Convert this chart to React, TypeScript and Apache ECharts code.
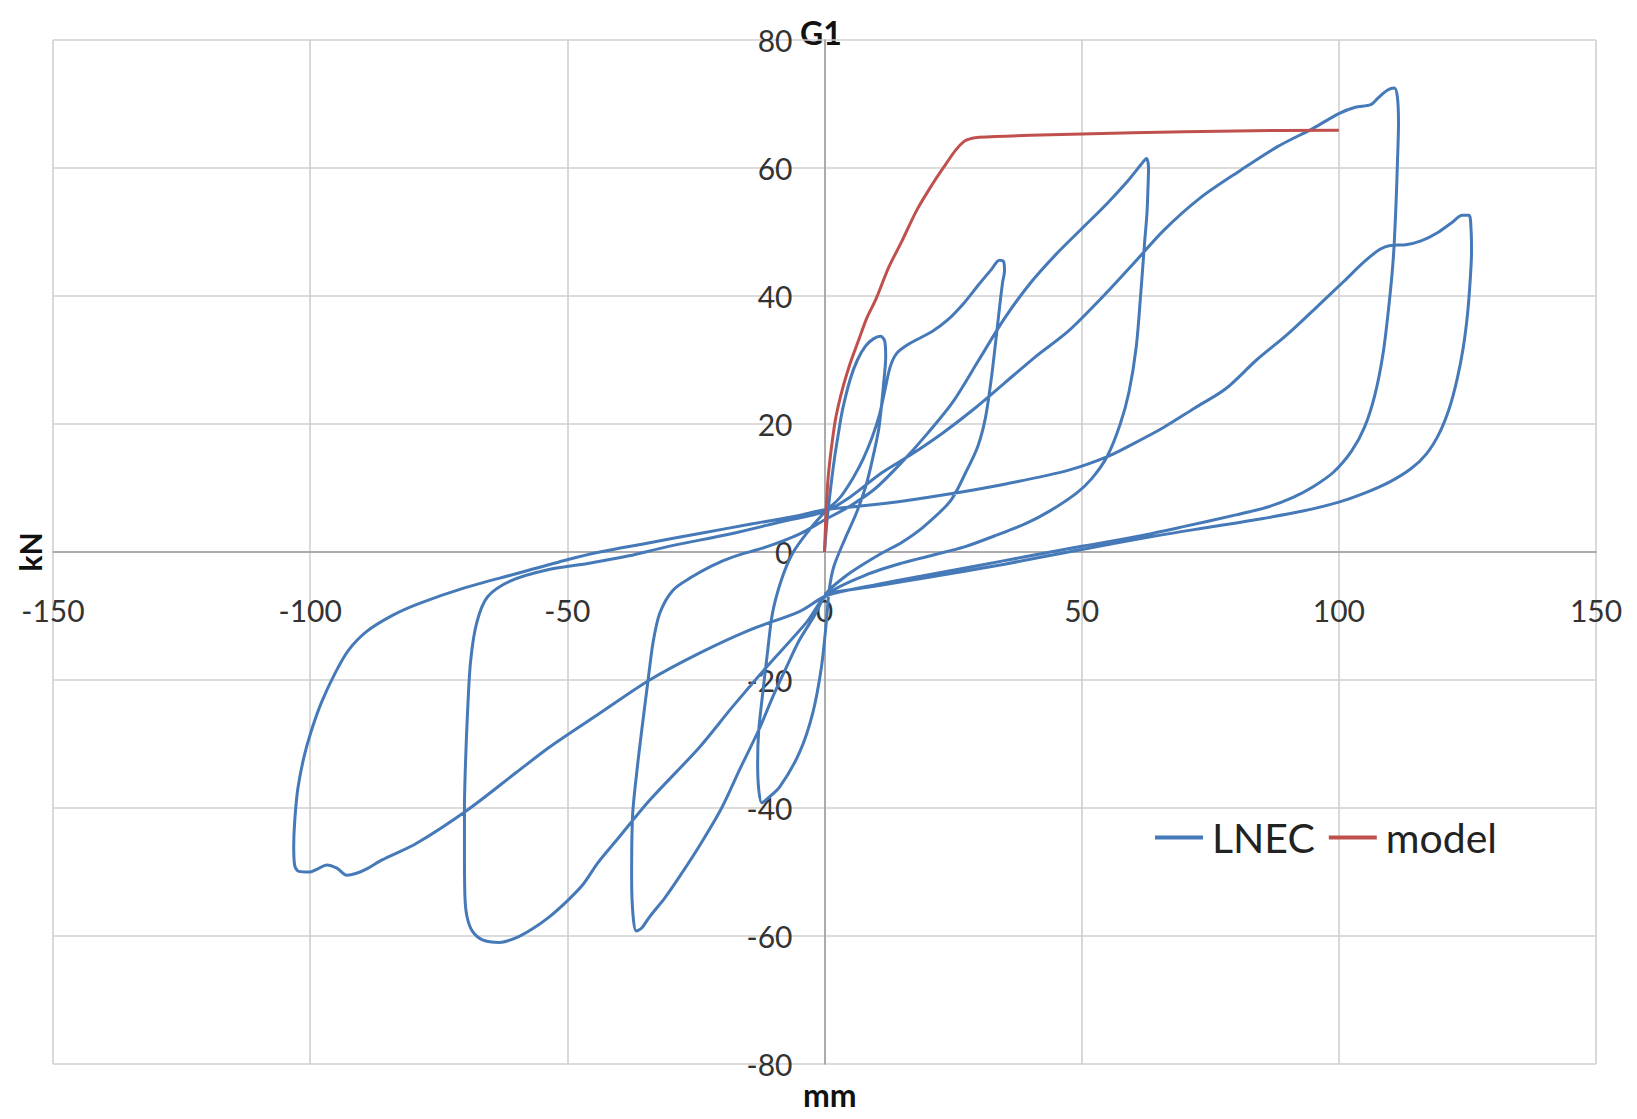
import React, { useEffect, useRef } from "react";
import * as echarts from "echarts";

const xTicks = { min: -150, max: 150, interval: 50 };
const yTicks = { min: -80, max: 80, interval: 20 };

// LNEC cyclic test, traced branch by branch in chronological order
const lnecCycle1 = [
  [0, 0], [0.5, 5], [1.2, 10], [1.9, 14.4], [2.7, 18.5], [3.5, 22.2], [5, 27], [6.4, 30], [8, 32.2],
  [9.5, 33.3], [10.9, 33.7], [11.7, 33], [11.9, 30.5], [11.5, 26.4], [10.6, 19.5], [9.3, 14.4],
  [8, 10.2], [6.2, 6.1], [3.9, 1.9], [1.8, -2.3], [0.9, -6], [0.4, -10.6], [-0.6, -18], [-2.3, -25.2],
  [-4.9, -31.4], [-8.7, -36.7], [-11.2, -38.6], [-12.2, -39.2],
];
const lnecCycle2 = [
  [-12.8, -37], [-13, -33], [-12.8, -28], [-12.1, -22.7], [-11.1, -15.8], [-10.1, -9.5], [-8.4, -4.4],
  [-6.2, -0.2], [-3.2, 3.2], [0, 6.2], [3, 8.5], [5.5, 11.5], [7.5, 14.5], [9.3, 18], [10.7, 21.5],
  [11.8, 25.5], [12.8, 29], [14, 31], [16, 32.3], [18, 33.2], [21, 34.5], [24, 36.3], [27, 38.8],
  [30, 41.8], [32.5, 44.2], [34, 45.6], [34.8, 45.4],
];
const lnecCycle3 = [
  [35, 44], [34.6, 42], [34, 38], [33.3, 33], [32.5, 27.5], [31.3, 21], [29.8, 16.5], [27.5, 12.5],
  [24.5, 8], [19.2, 3.9], [15, 1.5], [11.1, -0.2], [7, -2.2], [3.9, -3.9], [0.5, -6.3], [-2, -10],
  [-4.9, -13.8], [-7.4, -18], [-10.1, -22.7], [-12.6, -27.5], [-16.5, -34], [-20, -40], [-24, -45.5],
  [-28, -50.5], [-31, -54], [-34, -57], [-35.6, -58.8], [-36.6, -59.2],
];
const lnecCycle4 = [
  [-37.2, -57], [-37.5, -51], [-37.3, -41], [-36.3, -33], [-35.4, -27], [-34.3, -20], [-33.3, -14],
  [-32, -9.5], [-29.5, -6], [-26, -4], [-22, -2.2], [-17.9, -0.8], [-11.3, 0.8], [-4.9, 2.8], [0, 5],
  [5, 7.2], [10, 10], [15, 14], [20, 18.5], [25, 23.5], [30, 30], [35, 36.5], [40, 42], [45, 46.5],
  [50, 50.5], [55, 54.5], [59, 58], [61.5, 60.5], [62.6, 61.5],
];
const lnecCycle5 = [
  [63, 60], [62.9, 57], [62.7, 53], [62.2, 48], [61.5, 40.5], [60.6, 32], [59.2, 25], [57.5, 20],
  [55, 15], [52, 11.5], [49, 9.2], [44, 6.5], [39.3, 4.5], [33, 2.5], [27.2, 0.8], [21, -0.5],
  [15.2, -1.7], [8, -3.6], [0.5, -6.6], [-3.5, -11], [-11.3, -18], [-17.9, -24.2], [-24.3, -30.5],
  [-34, -38.8], [-40.4, -45], [-44, -48.5], [-47, -52], [-50, -54.5], [-53.5, -57], [-57, -59],
  [-60, -60.3], [-63.2, -61], [-66.5, -60.6], [-68.5, -59.2], [-69.5, -57],
];
const lnecCycle6 = [
  [-69.9, -54], [-70, -47], [-70, -40], [-69.8, -33], [-69.4, -25], [-68.8, -17], [-67.6, -11],
  [-65.5, -7], [-61, -4.5], [-54, -2.8], [-46, -1.8], [-38, -0.6], [-30.7, 0.8], [-17.9, 2.9],
  [-8, 4.8], [0, 6.3], [5, 8.6], [11, 12.3], [17, 15.3], [23, 18.6], [29, 22.3], [35, 26.4], [41, 30.5],
  [47.4, 34.5], [54, 39.8], [60, 45], [66, 50.3], [73, 55.3], [81, 59.7], [88, 63.3], [95, 66.2],
  [100, 68.5], [103.2, 69.5], [106.2, 69.9], [107.7, 71], [109.5, 72.2], [110.8, 72.5],
];
const lnecCycle7 = [
  [111.4, 71], [111.6, 67], [111.4, 61], [111.1, 54], [110.6, 46], [109.8, 39], [108.6, 31], [107, 24.5],
  [105, 19.5], [102.5, 15.8], [99, 12.5], [95, 10.2], [91, 8.5], [86, 7], [80, 5.8], [70, 4], [60, 2.3],
  [50, 0.9], [40, -0.6], [30, -2.1], [20, -3.6], [10, -5.1], [0.5, -6.8], [-4.9, -9.3], [-14.6, -12.2],
  [-24.3, -15.8], [-34, -20], [-43.7, -25.2], [-53.5, -30.5], [-60, -34.5], [-69.4, -40.3],
  [-79.3, -45.5], [-86, -48.1], [-89, -49.5], [-91, -50.2], [-92.9, -50.5], [-94.8, -49.4],
  [-96.8, -48.9], [-98.5, -49.5], [-100.1, -50], [-102.2, -49.9], [-103, -49],
];
const lnecCycle8 = [
  [-103.2, -46], [-103, -42], [-102.4, -37], [-101.2, -32], [-99.8, -28], [-97.8, -23.5], [-95.2, -19],
  [-92.5, -15.3], [-89, -12.4], [-84, -9.9], [-79, -8.1], [-70, -5.6], [-60, -3.4], [-50, -1.2],
  [-43.7, 0], [-35, 1.3], [-24.3, 2.9], [-14, 4.4], [-4.9, 5.7], [0, 6.6], [12, 7.6], [23, 8.9],
  [35, 10.6], [47.5, 12.8], [55, 14.9], [60, 16.9], [66, 19.5], [72, 22.5], [78, 25.5], [84, 30],
  [90, 34], [96, 38.5], [101, 42.3], [105, 45.4], [108, 47.3], [110, 47.9], [113, 48], [116, 48.6],
  [119, 49.8], [122, 51.5], [124, 52.6], [125.3, 52.6],
];
const lnecCycle9 = [
  [125.7, 50.5], [125.8, 47], [125.5, 42], [125, 37], [124.2, 32], [123, 27], [121.5, 22.5],
  [119.5, 18.5], [117, 15.3], [114, 13], [110, 11], [105, 9.2], [100, 7.8], [93, 6.4], [85, 5.2],
  [75, 3.9], [65, 2.6], [50, 0.4], [35, -1.9], [20, -4], [10, -5.3], [0, -6.5],
];

const modelCurve = [
  [0, 0], [0.3, 6], [0.7, 11.5], [1.3, 16], [2.2, 21], [3.5, 25.5], [5, 29.5], [6.5, 32.8], [8.2, 36.5],
  [10, 39.5], [12.5, 44.5], [15, 48.5], [18, 53.5], [21, 57.5], [23.5, 60.5], [25.5, 62.8], [27.2, 64.2],
  [28.5, 64.6], [30, 64.8], [40, 65.1], [60, 65.5], [80, 65.8], [100, 65.9],
];

const seriesNames = ["LNEC", "model"];
const titleText = "G1";
const xName = "mm";
const yName = "kN";

const lnecData = [
  ...lnecCycle1, ...lnecCycle2, ...lnecCycle3, ...lnecCycle4, ...lnecCycle5,
  ...lnecCycle6, ...lnecCycle7, ...lnecCycle8, ...lnecCycle9,
];

const FONT = "Lato, 'Open Sans', sans-serif";

const GRID = { left: 53, right: 41, top: 40, bottom: 55 };
const W = 1637;
const H = 1119;
const plotW = W - GRID.left - GRID.right;
const plotH = H - GRID.top - GRID.bottom;
// axes cross at zero: shift each axis from the grid edge to the zero position
const xAxisOffset = -plotH * ((0 - yTicks.min) / (yTicks.max - yTicks.min));
const yAxisOffset = -plotW * ((0 - xTicks.min) / (xTicks.max - xTicks.min));

export default function App() {
  const ref = useRef<HTMLDivElement>(null);
  useEffect(() => {
    const chart = echarts.init(ref.current!, null, { renderer: "svg" });
    chart.setOption({
      animation: false,
      backgroundColor: "#ffffff",
      grid: { ...GRID, containLabel: false, outerBoundsMode: "none" },
      xAxis: {
        type: "value",
        position: "bottom",
        offset: xAxisOffset,
        min: xTicks.min,
        max: xTicks.max,
        interval: xTicks.interval,
        axisLine: { onZero: false, lineStyle: { color: "#9c9c9c", width: 1.5 } },
        axisTick: { show: false },
        axisLabel: { margin: 43, fontSize: 30, color: "#333", fontFamily: FONT },
        splitLine: { lineStyle: { color: "#d0d0d0", width: 1.6 } },
      },
      yAxis: {
        type: "value",
        position: "left",
        offset: yAxisOffset,
        min: yTicks.min,
        max: yTicks.max,
        interval: yTicks.interval,
        axisLine: { onZero: false, lineStyle: { color: "#9c9c9c", width: 1.5 } },
        axisTick: { show: false },
        axisLabel: { margin: 32, fontSize: 30, color: "#333", fontFamily: FONT },
        splitLine: { lineStyle: { color: "#d0d0d0", width: 1.6 } },
      },
      legend: {
        left: 1150,
        top: 812,
        icon: "rect",
        itemWidth: 48,
        itemHeight: 4,
        itemGap: 14,
        data: seriesNames,
        textStyle: { fontSize: 41, color: "#222", fontFamily: FONT, padding: [0, 0, 0, 4] },
      },
      graphic: [
        {
          type: "text",
          left: 800,
          top: 16,
          style: { text: titleText, fontSize: 32, fontWeight: "bold", fill: "#111", fontFamily: FONT },
        },
        {
          type: "text",
          left: 803,
          top: 1078,
          style: { text: xName, fontSize: 32, fontWeight: "bold", fill: "#111", fontFamily: FONT },
        },
        {
          type: "text",
          x: 30,
          y: 552,
          rotation: Math.PI / 2,
          style: {
            text: yName,
            fontSize: 30,
            fontWeight: "bold",
            fill: "#111",
            fontFamily: FONT,
            textAlign: "center",
            textVerticalAlign: "middle",
          },
        },
      ],
      series: [
        {
          type: "line",
          name: seriesNames[0],
          data: lnecData,
          symbol: "none",
          smooth: 0.3,
          color: "#4579b8",
          lineStyle: { color: "#4579b8", width: 3 },
          z: 2,
        },
        {
          type: "line",
          name: seriesNames[1],
          data: modelCurve,
          symbol: "none",
          smooth: 0.3,
          color: "#c0504d",
          lineStyle: { color: "#c0504d", width: 3 },
          z: 3,
        },
      ],
    });
    return () => chart.dispose();
  }, []);
  return (
    <div
      ref={ref}
      style={{ position: "absolute", left: 0, top: 0, width: W, height: H, background: "#fff" }}
    />
  );
}
